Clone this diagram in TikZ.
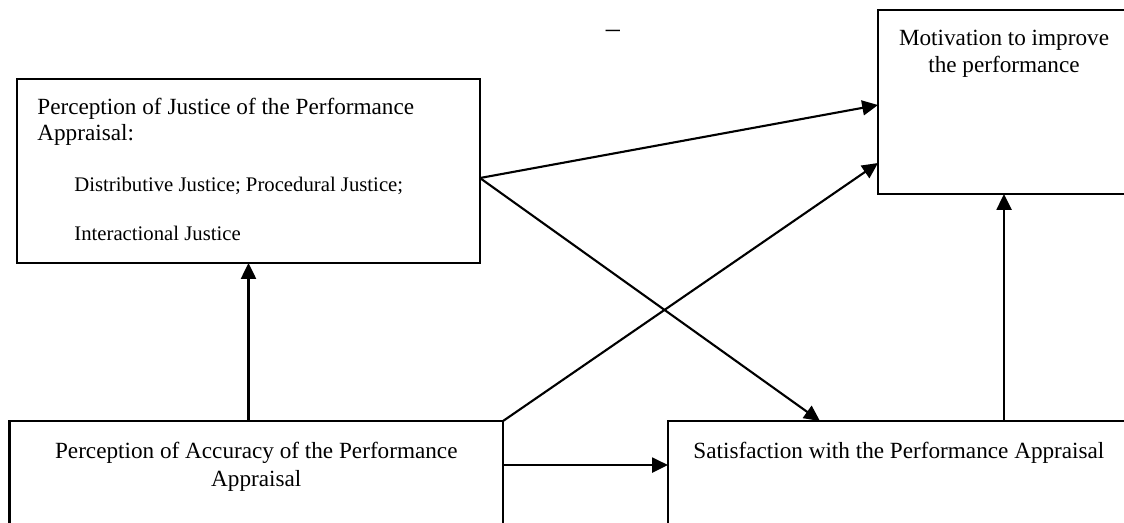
\documentclass[tikz,border=0pt]{standalone}
\usepackage{fontspec}
\setmainfont{Liberation Serif}
\usetikzlibrary{arrows.meta,positioning,calc}

\begin{document}
\begin{tikzpicture}[
    x=0.02cm, y=-0.02cm,
    block/.style={rectangle, draw, line width=1.6pt, inner sep=0pt, outer sep=0pt, minimum height=3.68cm},
    caption/.style={inner sep=0pt, font=\fontsize{13.2}{15.4}\selectfont},
    line/.style={draw, line width=1.2pt, -{Triangle[length=9pt, width=8.5pt]}}
]
    \useasboundingbox (0,0) rectangle (1124,522);
    \clip (0,0) rectangle (1124,522);

    \node [block, minimum width=9.26cm, label={[caption, anchor=north west, xshift=0.4cm, yshift=-0.38cm, text width=8.6cm, align=flush left, font=\fontsize{13.2}{14.6}\selectfont]north west:{Perception of Justice of the Performance\\Appraisal:\\[14.5pt]{\fontsize{11.8}{14.6}\selectfont\hspace*{0.74cm}Distributive Justice; Procedural Justice;\\[13.3pt]\hspace*{0.74cm}Interactional Justice}}}] (justice) at (248.5,171) {};
    \node [block, minimum width=5.04cm, label={[caption, anchor=north, yshift=-0.4cm, align=center]north:Motivation to improve\\the performance}] (motiv) at (1004,102) {};
    \node [block, minimum width=9.87cm, label={[caption, anchor=north, yshift=-0.42cm, align=center, font=\fontsize{13.2}{16}\selectfont]north:Perception of Accuracy of the Performance\\Appraisal}] (accuracy) at (256.3,513) {};
    \node [block, minimum width=9.24cm, right=3.3cm of accuracy, label={[caption, anchor=north, yshift=-0.42cm]north:Satisfaction with the Performance Appraisal}] (satisf) {};
    \node [caption, font=\fontsize{16}{16}\selectfont] (stray) at (613,34) {–};

    \path [line] ($(justice.east)+(0,7)$) -- ($(motiv.west)+(0,3)$);
    \path [line] ($(justice.east)+(0,7)$) -- ($(satisf.north west)+(152,0)$);
    \path [line] (accuracy.north east) -- ($(motiv.west)+(0,61)$);
    \path [line] (accuracy.north -| justice.south) -- (justice.south);
    \path [line] ($(accuracy.north east)+(0,44)$) -- ($(satisf.north west)+(0,44)$);
    \path [line] (satisf.north -| motiv.south) -- (motiv.south);
\end{tikzpicture}
\end{document}
